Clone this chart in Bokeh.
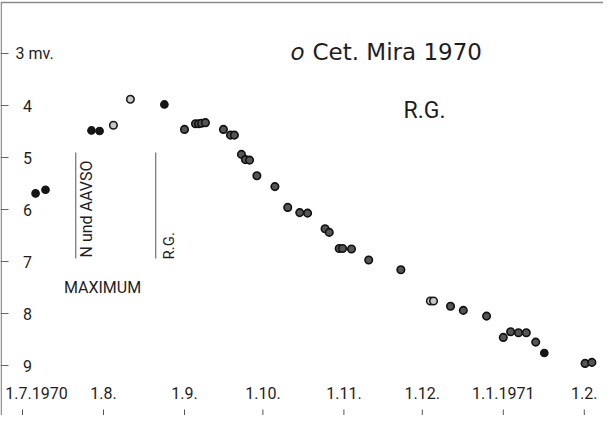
import numpy as np
import pandas as pd
from bokeh.plotting import figure
from bokeh.models import Range1d
from bokeh.core.properties import value
from bokeh.embed import file_html
from bokeh.resources import INLINE

# ---------------- data ----------------
EPOCH = pd.Timestamp("1970-07-01")
tick_dates = ["1970-07-01", "1970-08-01", "1970-09-01", "1970-10-01",
              "1970-11-01", "1970-12-01", "1971-01-01", "1971-02-01"]
tick_labels = ["1.7.1970", "1.8.", "1.9.", "1.10.", "1.11.", "1.12.", "1.1.1971", "1.2."]
mag_ticks = [3, 4, 5, 6, 7, 8, 9]
mag_labels = ["3 mv.", "4", "5", "6", "7", "8", "9"]

# days since 1 July 1970, visual magnitude
solid_days = [5.0, 8.8, 26.4, 29.5, 54.3, 199.7]
solid_mag = [5.69, 5.62, 4.48, 4.49, 3.98, 8.76]
open_days = [34.8, 41.3, 156.1, 157.3]
open_mag = [4.38, 3.88, 7.76, 7.76]
ring_days = [62.0, 66.2, 67.4, 68.5, 70.0, 76.9, 79.6, 81.1, 83.8, 85.3, 86.9,
             89.7, 96.6, 101.5, 106.1, 109.1, 115.8, 117.4, 121.2, 122.5, 125.9,
             132.5, 144.8, 163.8, 168.7, 177.6, 184.0, 186.8, 189.8, 192.8,
             196.4, 215.3, 217.9]
ring_mag = [4.46, 4.35, 4.35, 4.34, 4.33, 4.46, 4.57, 4.57, 4.94, 5.04, 5.05,
            5.35, 5.56, 5.96, 6.06, 6.07, 6.37, 6.44, 6.75, 6.75, 6.76,
            6.97, 7.16, 7.86, 7.94, 8.05, 8.46, 8.35, 8.37, 8.37,
            8.55, 8.96, 8.94]
max_days = [20.4, 51.0]
max_labels = ["N und AAVSO", "R.G."]
title_text = "Cet. Mira  1970"
observer = "R.G."

tick_days = list((pd.to_datetime(tick_dates) - EPOCH).days)

# ---------------- figure ----------------
W, H = 603, 415
PXD = 2.613          # pixels per day
X0 = 30.0            # page x of 1 July 1970
def px2d(px):
    return (px - X0) / PXD
def py2m(py):
    return 3 + (py - 61.0) / 52.0

p = figure(width=W, height=H, output_backend="svg", toolbar_location=None,
           x_range=Range1d(px2d(8), px2d(611)),
           y_range=Range1d(py2m(423), py2m(8)),
           min_border=0, x_axis_type=None, y_axis_type=None)
p.grid.visible = False
p.outline_line_color = None
p.background_fill_color = "white"
p.border_fill_color = "white"

frame_col = "#8a8a8a"
ink = "#1e1e1e"

# frame: top and left lines
p.segment(x0=[px2d(8)], y0=[py2m(10)], x1=[px2d(611)], y1=[py2m(10)],
          line_color=frame_col, line_width=1.4)
p.segment(x0=[px2d(8.7)], y0=[py2m(10)], x1=[px2d(8.7)], y1=[py2m(423)],
          line_color=frame_col, line_width=1.4)

# y tick marks and labels
p.segment(x0=[px2d(8)] * len(mag_ticks), y0=mag_ticks,
          x1=[px2d(16)] * len(mag_ticks), y1=mag_ticks,
          line_color="#666666", line_width=1)
p.text(x=[px2d(35)] * (len(mag_ticks) - 1), y=mag_ticks[1:], text=mag_labels[1:],
       text_font=value("Roboto"), text_font_size="16px", text_color=ink,
       text_align="center", text_baseline="middle")
p.text(x=[px2d(23)], y=mag_ticks[:1], text=mag_labels[:1],
       text_font=value("Roboto"), text_font_size="16px", text_color=ink,
       text_align="left", text_baseline="middle")

# x tick marks and labels
p.segment(x0=tick_days, y0=[py2m(417)] * len(tick_days),
          x1=tick_days, y1=[py2m(424)] * len(tick_days),
          line_color="#555555", line_width=1)
p.text(x=tick_days[1:], y=[py2m(400)] * (len(tick_days) - 1), text=tick_labels[1:],
       text_font=value("Roboto"), text_font_size="16px", text_color=ink,
       text_align="center", text_baseline="middle")
p.text(x=tick_days[:1], y=[py2m(400)], text=tick_labels[:1], x_offset=14,
       text_font=value("Roboto"), text_font_size="16px", text_color=ink,
       text_align="center", text_baseline="middle")

# maximum markers
p.segment(x0=max_days, y0=[py2m(160)] * 2, x1=max_days, y1=[py2m(266)] * 2,
          line_color="#555555", line_width=1)
p.text(x=max_days[:1], y=[py2m(265)], text=max_labels[:1], x_offset=11,
       angle=np.pi / 2, text_font=value("Roboto"), text_font_size="16px",
       text_color=ink, text_align="left", text_baseline="middle")
p.text(x=max_days[1:], y=[py2m(267)], text=max_labels[1:], x_offset=13,
       angle=np.pi / 2, text_font=value("Roboto"), text_font_size="15px",
       text_color=ink, text_align="left", text_baseline="middle")
p.text(x=[px2d(110)], y=[py2m(295)], text=["MAXIMUM"],
       text_font=value("Roboto"), text_font_size="16px", text_color=ink,
       text_align="center", text_baseline="middle")

# title and observer
p.text(x=[px2d(298)], y=[py2m(59)], text=["o"],
       text_font=value("DejaVu Sans"), text_font_size="23px", text_font_style="italic",
       text_color=ink, text_align="left", text_baseline="middle")
p.text(x=[px2d(320)], y=[py2m(59)], text=[title_text],
       text_font=value("DejaVu Sans"), text_font_size="23px",
       text_color=ink, text_align="left", text_baseline="middle")
p.text(x=[px2d(432)], y=[py2m(118)], text=[observer],
       text_font=value("Roboto"), text_font_size="23px",
       text_color=ink, text_align="center", text_baseline="middle")

# observations
p.scatter(ring_days, ring_mag, size=7.5, fill_color="#555555",
          line_color="#111111", line_width=1.6)
p.scatter(open_days, open_mag, size=7.5, fill_color="#c8c8c8",
          line_color="#1a1a1a", line_width=1.6)
p.scatter(solid_days, solid_mag, size=7.5, fill_color="#151515",
          line_color="#151515", line_width=1.2)

open("out.html", "w").write(file_html(p, INLINE))
